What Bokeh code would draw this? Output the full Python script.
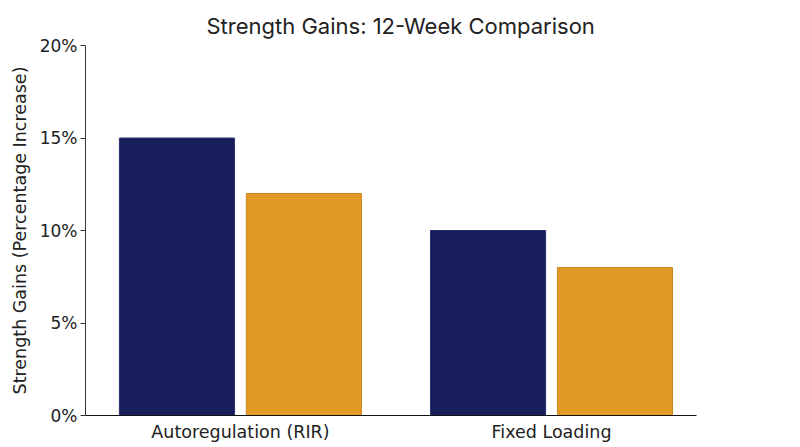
from bokeh.plotting import figure
from bokeh.models import Range1d, FixedTicker, Title
from bokeh.embed import file_html
from bokeh.resources import INLINE

categories = ["Autoregulation (RIR)", "Fixed Loading"]
navy_values = [15, 10]
orange_values = [12, 8]
y_ticks = [0, 5, 10, 15, 20]
title_text = "Strength Gains: 12-Week Comparison"
y_label = "Strength Gains (Percentage Increase)"

FONT = "DejaVu Sans"
TITLE_FONT = "Inter"
NAVY = "#181e5b"
ORANGE = "#e19a25"

W, H = 798, 445
LEFT, TOP, BOTTOM = 85, 45, 30
p = figure(width=W, height=H, output_backend="svg", toolbar_location=None,
           x_range=Range1d(-0.498, 1.466), y_range=Range1d(0, 20),
           min_border_left=LEFT, min_border_right=102, min_border_top=TOP,
           min_border_bottom=BOTTOM)

xs = list(range(len(categories)))
bw = 0.37
off = 0.204
p.vbar(x=[x - off for x in xs], top=navy_values, width=bw, bottom=0,
       fill_color=NAVY, line_color="#2a3070", line_width=1)
p.vbar(x=[x + off for x in xs], top=orange_values, width=bw, bottom=0,
       fill_color=ORANGE, line_color="#c8861a", line_width=1)

p.title = Title(text=title_text, align="left", offset=121,
                text_font=TITLE_FONT, text_font_size="22px", text_font_style="normal",
                text_color="#222222", standoff=14)

p.xgrid.visible = False
p.ygrid.visible = False
p.outline_line_color = None

# y axis
p.yaxis.ticker = FixedTicker(ticks=y_ticks)
p.yaxis.major_label_overrides = {v: f"{v}%" for v in y_ticks}
p.yaxis.axis_label = y_label
p.yaxis.axis_label_text_font = FONT
p.yaxis.axis_label_text_font_size = "17.5px"
p.yaxis.axis_label_text_font_style = "normal"
p.yaxis.axis_label_text_color = "#222222"
p.yaxis.axis_label_standoff = 7
p.yaxis.major_label_text_font = FONT
p.yaxis.major_label_text_font_size = "17px"
p.yaxis.major_label_text_color = "#222222"
p.yaxis.major_tick_out = 5
p.yaxis.major_tick_in = 0
p.yaxis.minor_tick_line_color = None
p.yaxis.axis_line_color = "#333333"
p.yaxis.major_tick_line_color = "#333333"
p.yaxis.major_label_standoff = 3

# x axis
p.xaxis.ticker = FixedTicker(ticks=xs)
p.xaxis.major_label_overrides = {x: c for x, c in zip(xs, categories)}
p.xaxis.major_label_text_font = FONT
p.xaxis.major_label_text_font_size = "17.5px"
p.xaxis.major_label_text_color = "#222222"
p.xaxis.major_tick_line_color = None
p.xaxis.minor_tick_line_color = None
p.xaxis.axis_line_color = "#111111"
p.xaxis.major_label_standoff = 0

open("out.html", "w").write(file_html(p, INLINE))
